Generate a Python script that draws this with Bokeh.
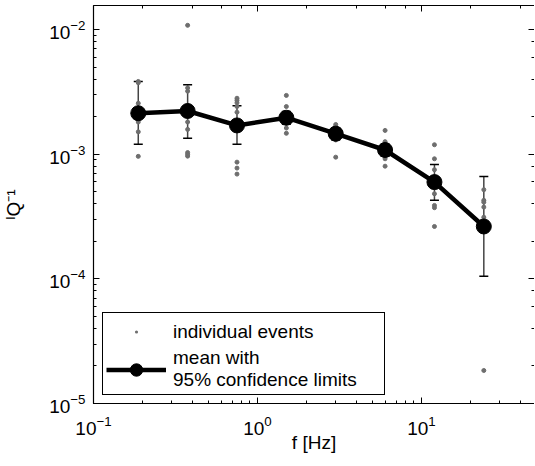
import numpy as np
from bokeh.plotting import figure
from bokeh.models import (ColumnDataSource, Whisker, LogAxis, Legend, LegendItem,
                          Range1d, TeeHead, LogTicker)
from bokeh.embed import file_html
from bokeh.resources import INLINE

# ---- data ----
freqs = [0.1875, 0.375, 0.75, 1.5, 3.0, 6.0, 12.0, 24.0]
mean_q = [2.13e-3, 2.22e-3, 1.70e-3, 1.96e-3, 1.46e-3, 1.08e-3, 5.97e-4, 2.63e-4]
ci_upper = [3.83e-3, 3.60e-3, 2.45e-3, 2.20e-3, 1.62e-3, 1.20e-3, 8.26e-4, 6.62e-4]
ci_lower = [1.20e-3, 1.34e-3, 1.20e-3, 1.74e-3, 1.30e-3, 0.96e-3, 4.26e-4, 1.05e-4]

events_0187 = [3.83e-3, 3.74e-3, 2.56e-3, 2.0e-3, 1.81e-3, 1.51e-3, 9.6e-4]
events_0375 = [1.08e-2, 3.40e-3, 3.20e-3, 2.15e-3, 1.81e-3, 1.58e-3, 1.03e-3, 9.96e-4, 9.64e-4]
events_0750 = [2.81e-3, 2.70e-3, 2.58e-3, 2.41e-3, 2.17e-3, 1.86e-3, 8.63e-4, 7.73e-4, 6.92e-4]
events_1500 = [2.96e-3, 2.41e-3, 1.98e-3, 1.77e-3, 1.62e-3, 1.47e-3]
events_3000 = [1.73e-3, 1.67e-3, 1.50e-3, 1.30e-3, 9.46e-4]
events_6000 = [1.55e-3, 1.26e-3, 1.10e-3, 9.89e-4, 9.18e-4, 8.01e-4]
events_12000 = [1.19e-3, 9.18e-4, 7.50e-4, 4.81e-4, 3.88e-4, 3.72e-4, 2.63e-4]
events_24000 = [5.19e-4, 4.26e-4, 4.12e-4, 3.76e-4, 3.12e-4, 2.40e-4, 1.84e-5]

events_by_freq = [events_0187, events_0375, events_0750, events_1500,
                  events_3000, events_6000, events_12000, events_24000]

x_label = "f [Hz]"
y_label = "ᴵQ⁻¹"
legend_events = "individual events"
legend_mean = "mean with\n95% confidence limits"

FONT = "Liberation Sans"
FS = "19px"
DOT_GRAY = "#6e6e6e"

ev_x, ev_y = [], []
for f, vals in zip(freqs, events_by_freq):
    ev_x.extend([f] * len(vals))
    ev_y.extend(vals)

p = figure(frame_width=441, frame_height=398, x_axis_type="log", y_axis_type="log",
           x_range=Range1d(0.1, 48.9), y_range=Range1d(1e-5, 10 ** (-2 + 24 / 124.7)),
           output_backend="svg", toolbar_location=None,
           min_border_left=92, min_border_right=0, min_border_top=5, min_border_bottom=50)
p.outline_line_color = None
p.xgrid.visible = False
p.ygrid.visible = False
p.background_fill_color = "white"
p.border_fill_color = "white"

for ax in (p.xaxis[0], p.yaxis[0]):
    ax.axis_line_color = "black"
    ax.axis_line_width = 1.2
    ax.major_tick_in = 6
    ax.major_tick_out = 0
    ax.minor_tick_in = 3
    ax.minor_tick_out = 0
    ax.major_tick_line_color = "black"
    ax.minor_tick_line_color = "black"
    ax.major_label_text_font = FONT
    ax.major_label_text_font_size = FS
    ax.major_label_text_color = "black"
    ax.axis_label_text_font = FONT
    ax.axis_label_text_font_size = FS
    ax.axis_label_text_font_style = "normal"
    ax.axis_label_text_color = "black"

p.xaxis.axis_label = x_label
p.yaxis.axis_label = y_label
p.xaxis.major_label_standoff = 12
p.yaxis.major_label_standoff = 8
p.xaxis.axis_label_standoff = -6
p.yaxis.axis_label_standoff = 22

top_ax = LogAxis(ticker=LogTicker())
right_ax = LogAxis(ticker=LogTicker())
for ax in (top_ax, right_ax):
    ax.major_tick_in = 6
    ax.major_tick_out = 0
    ax.minor_tick_in = 3
    ax.minor_tick_out = 0
    ax.major_label_text_font_size = "1px"
    ax.major_label_text_alpha = 0
    ax.major_label_standoff = 0
top_ax.axis_line_color = "black"
top_ax.axis_line_width = 1.2
right_ax.axis_line_color = None
p.add_layout(top_ax, "above")
p.add_layout(right_ax, "right")

# error bars
ci_src = ColumnDataSource(dict(x=freqs, upper=ci_upper, lower=ci_lower))
wh = Whisker(base="x", upper="upper", lower="lower", source=ci_src, dimension="height",
             line_color="#444444", line_width=1.5,
             upper_head=TeeHead(size=9, line_color="black", line_width=1.5),
             lower_head=TeeHead(size=9, line_color="black", line_width=1.5))
p.add_layout(wh)

ev = p.scatter(ev_x, ev_y, size=4, color=DOT_GRAY, marker="circle")
ln = p.line(freqs, mean_q, line_color="black", line_width=4.5)
mk = p.scatter(freqs, mean_q, size=15, color="black", marker="circle")

# legend-only glyph: small dot (not drawn in the plot itself)
ev_key = p.scatter(ev_x[:1], ev_y[:1], marker="dot", size=4, color=DOT_GRAY,
                   line_width=2, visible=False)

legend = Legend(items=[LegendItem(label=legend_events, renderers=[ev_key]),
                       LegendItem(label=legend_mean, renderers=[ln, mk])],
                location=(9, 8), border_line_color="black", border_line_width=1,
                border_line_alpha=1.0,
                background_fill_alpha=1, label_text_font=FONT, label_text_font_size=FS,
                label_text_color="black", label_text_line_height=1.4,
                glyph_width=60, glyph_height=31, label_standoff=7, padding=3, spacing=0,
                label_width=208, margin=0)
p.add_layout(legend, "center")

open("out.html", "w").write(file_html(p, INLINE))
